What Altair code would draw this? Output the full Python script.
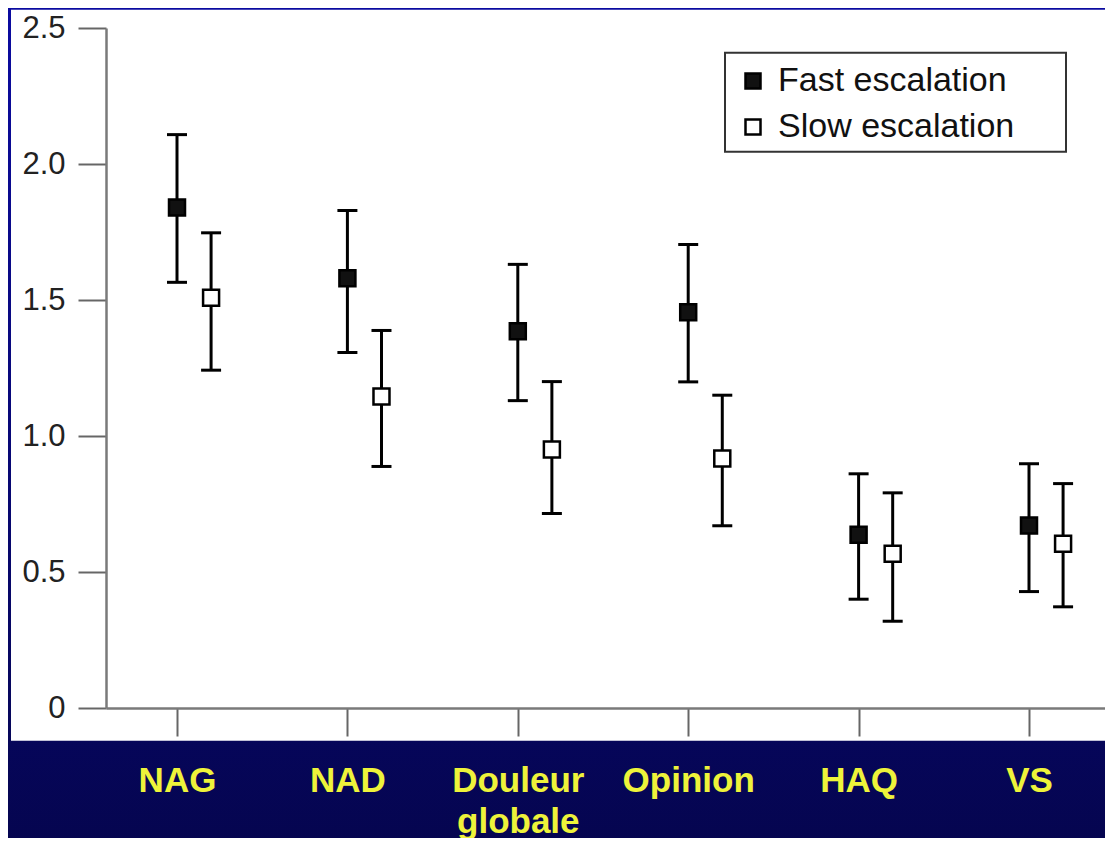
import json
import altair as alt
import pandas as pd

# ---- data ----
categories = ["NAG", "NAD", "Douleur globale", "Opinion", "HAQ", "VS"]
series = ["Fast escalation", "Slow escalation"]

fast_mean = [1.84, 1.58, 1.385, 1.455, 0.637, 0.671]
fast_low = [1.565, 1.307, 1.13, 1.199, 0.40, 0.428]
fast_high = [2.108, 1.829, 1.631, 1.704, 0.861, 0.898]

slow_mean = [1.508, 1.145, 0.95, 0.917, 0.567, 0.604]
slow_low = [1.242, 0.888, 0.715, 0.67, 0.319, 0.372]
slow_high = [1.747, 1.388, 1.20, 1.15, 0.791, 0.825]

y_ticks = [0, 0.5, 1.0, 1.5, 2.0, 2.5]

# ---- build table ----
series_values = {
    series[0]: (fast_mean, fast_low, fast_high),
    series[1]: (slow_mean, slow_low, slow_high),
}
series_shift = {series[0]: 0.0, series[1]: 0.2}

rows = []
for s in series:
    m, lo, hi = series_values[s]
    for i, cat in enumerate(categories):
        rows.append({
            "category": cat,
            "series": s,
            "pos": i + series_shift[s],
            "mean": m[i],
            "low": lo[i],
            "high": hi[i],
        })
df = pd.DataFrame(rows)

W, H = 999, 680
BG = "#08087c"
YELLOW = "#eef33a"

x_scale = alt.Scale(domain=[-0.4167, 5.446], nice=False, zero=False)
y_scale = alt.Scale(domain=[0, 2.5], nice=False, zero=False)

x_axis = alt.Axis(
    values=list(range(len(categories))),
    labelExpr="split(" + json.dumps(categories) + "[round(datum.value)], ' ')",
    grid=False, title=None, zindex=1,
    domainColor="#7a7a7a", domainWidth=2.5,
    tickColor="#666666", tickWidth=2, tickSize=28,
    labelFont="Liberation Sans", labelFontWeight="bold", labelFontSize=35,
    labelColor=YELLOW, labelPadding=27, labelLineHeight=41,
    labelFlush=False, labelOverlap=False,
)
y_axis = alt.Axis(
    values=y_ticks,
    labelExpr="datum.value == 0 ? '0' : format(datum.value, '.1f')",
    grid=False, title=None, zindex=1,
    domainColor="#7a7a7a", domainWidth=2.5,
    tickColor="#666666", tickWidth=2, tickSize=28,
    labelFont="Liberation Sans", labelFontSize=31, labelColor="#222222",
    labelPadding=13, labelFlush=False, labelOverlap=False,
)

X = alt.X("pos:Q", scale=x_scale, axis=x_axis, title=None)

one = pd.DataFrame({"k": [0]})

background = alt.Chart(one).mark_rect(
    color=alt.LinearGradient(
        gradient="linear", x1=0, x2=0, y1=0, y2=1,
        stops=[alt.GradientStop(color="#0b0ba0", offset=0),
               alt.GradientStop(color="#05054e", offset=1)],
    )
).encode(x=alt.value(-98), x2=alt.value(1000), y=alt.value(-20), y2=alt.value(830))

panel = alt.Chart(one).mark_rect(color="white").encode(
    x=alt.value(-95), x2=alt.value(1010), y=alt.value(-18.3), y2=alt.value(712.7)
)

legend_frame = alt.Chart(one).mark_rect(
    fill="white", stroke="#333333", strokeWidth=2
).encode(x=alt.value(619), x2=alt.value(960), y=alt.value(24.7), y2=alt.value(123.7))

base = alt.Chart(df)

rules = base.mark_rule(color="black", strokeWidth=3).encode(
    x=X,
    y=alt.Y("low:Q", scale=y_scale, axis=y_axis, title=None),
    y2="high:Q",
)
caps_hi = base.mark_tick(orient="horizontal", color="black", thickness=3, size=20, opacity=1).encode(
    x=X, y=alt.Y("high:Q", scale=y_scale, axis=y_axis, title=None)
)
caps_lo = base.mark_tick(orient="horizontal", color="black", thickness=3, size=20, opacity=1).encode(
    x=X, y=alt.Y("low:Q", scale=y_scale, axis=y_axis, title=None)
)
points = base.mark_point(
    shape="square", filled=True, size=256, stroke="black", strokeWidth=2.5, opacity=1
).encode(
    x=X,
    y=alt.Y("mean:Q", scale=y_scale, axis=y_axis, title=None),
    fill=alt.Fill(
        "series:N",
        scale=alt.Scale(domain=series, range=["#111111", "white"]),
        legend=alt.Legend(
            title=None, orient="none", legendX=630, legendY=36,
            symbolType="square", symbolSize=225,
            symbolStrokeColor="black", symbolStrokeWidth=2.5,
            labelFont="Liberation Sans", labelFontSize=34, labelColor="#111111",
            labelOffset=8, labelLimit=500, rowPadding=12, padding=0, zindex=1,
        ),
    ),
)

chart = alt.layer(
    background, panel, legend_frame, rules, caps_hi, caps_lo, points
).properties(
    width=W, height=H,
    background=BG,
    autosize=alt.AutoSizeParams(type="none"),
    padding={"left": 98, "top": 20, "right": 0, "bottom": 130},
).configure_view(stroke=None)

chart.save("out.html", embed_options={"renderer": "svg", "actions": False})
